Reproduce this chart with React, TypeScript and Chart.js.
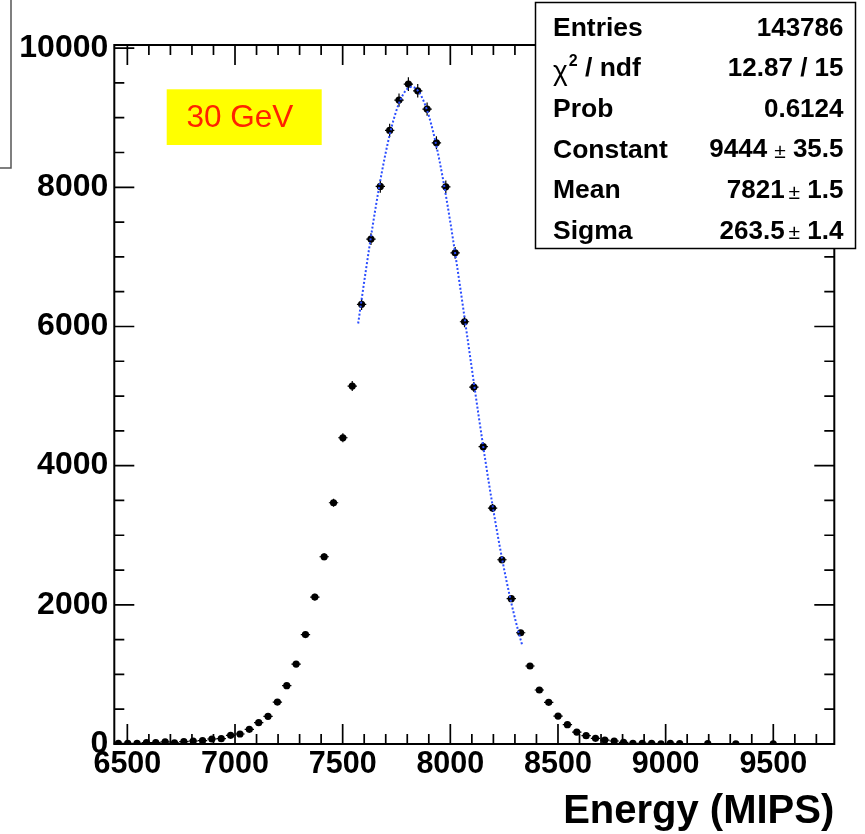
import React, { useEffect, useRef } from "react";
import { Chart, registerables } from "chart.js";

Chart.register(...registerables);

// ---------- data ----------
const binCenters = [
  6458.2, 6501.7, 6545.1, 6588.6, 6632.0, 6675.5, 6718.9, 6762.4, 6805.8, 6849.3,
  6892.7, 6936.2, 6979.6, 7023.1, 7066.5, 7110.0, 7153.4, 7196.9, 7240.3, 7283.8,
  7327.2, 7370.7, 7414.1, 7457.6, 7501.0, 7544.5, 7587.9, 7631.4, 7674.8, 7718.3,
  7761.7, 7805.2, 7848.6, 7892.1, 7935.5, 7979.0, 8022.4, 8065.9, 8109.3, 8152.8,
  8196.2, 8239.7, 8283.1, 8326.6, 8370.0, 8413.5, 8456.9, 8500.4, 8543.8, 8587.3,
  8630.7, 8674.2, 8717.6, 8761.1, 8804.5, 8848.0, 8891.4, 8934.9, 8978.3, 9021.8,
  9065.2, 9195.6, 9326.0, 9499.7,
];
const binCounts = [
  10, 10, 10, 20, 20, 30, 15, 35, 43, 48,
  72, 77, 125, 144, 211, 307, 397, 603, 838, 1149,
  1573, 2112, 2691, 3467, 4401, 5144, 6318, 7256, 8013, 8818,
  9253, 9483, 9387, 9124, 8639, 8007, 7059, 6068, 5129, 4272,
  3391, 2648, 2088, 1599, 1121, 776, 599, 402, 278, 172,
  120, 81, 57, 43, 24, 10, 10, 10, 3, 8,
  5, 5, 3, 2,
];
const binHalfWidth = 21.7;

const fitConstant = 9444;
const fitMean = 7821;
const fitSigma = 263.5;
const fitRange = [7572, 8335];

const xTickLabels = [6500, 7000, 7500, 8000, 8500, 9000, 9500];
const yTickLabels = [0, 2000, 4000, 6000, 8000, 10000];
const xMinorStep = 100;
const yMinorStep = 500;

const statsLabels = ["Entries", "CHI2", "Prob", "Constant", "Mean", "Sigma"];
const statsValues = ["143786", "12.87 / 15", "0.6124", "9444 ± 35.5", "7821 ± 1.5", "263.5 ± 1.4"];

const energyLabel = "30 GeV";
const xTitle = "Energy (MIPS)";

const X_MIN = 6439.4;
const X_MAX = 9783.3;
const Y_MIN = 0;
const Y_MAX = 10045;

const FONT = '"Liberation Sans", Arial, Helvetica, sans-serif';

function fitCurve() {
  const pts: { x: number; y: number }[] = [];
  const n = 300;
  for (let i = 0; i <= n; i++) {
    const x = fitRange[0] + ((fitRange[1] - fitRange[0]) * i) / n;
    const d = (x - fitMean) / fitSigma;
    pts.push({ x, y: fitConstant * Math.exp(-0.5 * d * d) });
  }
  return pts;
}

const decorPlugin = {
  id: "rootDecor",
  beforeDraw(chart: any) {
    const ctx = chart.ctx;
    ctx.save();
    ctx.fillStyle = "#ffffff";
    ctx.fillRect(0, 0, chart.width, chart.height);
    ctx.restore();
  },
  beforeDatasetsDraw(chart: any) {
    const ctx = chart.ctx;
    const xs = chart.scales.x;
    const ys = chart.scales.y;
    const { left, right, top, bottom } = chart.chartArea;
    ctx.save();
    // frame
    ctx.strokeStyle = "#000";
    ctx.lineWidth = 2;
    ctx.strokeRect(left, top, right - left, bottom - top);
    // ticks
    ctx.lineWidth = 1.7;
    ctx.beginPath();
    for (let v = xTickLabels[0]; v <= X_MAX; v += xMinorStep) {
      const px = xs.getPixelForValue(v);
      const len = xTickLabels.includes(v) ? 20 : 10;
      ctx.moveTo(px, bottom);
      ctx.lineTo(px, bottom - len);
      ctx.moveTo(px, top);
      ctx.lineTo(px, top + len);
    }
    for (let v = 0; v <= Y_MAX; v += yMinorStep) {
      const py = ys.getPixelForValue(v);
      const len = yTickLabels.includes(v) ? 20 : 10;
      ctx.moveTo(left, py);
      ctx.lineTo(left + len, py);
      ctx.moveTo(right, py);
      ctx.lineTo(right - len, py);
    }
    ctx.stroke();
    // error bars
    ctx.lineWidth = 1.2;
    ctx.beginPath();
    binCenters.forEach((c, i) => {
      const v = binCounts[i];
      const cx = xs.getPixelForValue(c);
      const cy = ys.getPixelForValue(v);
      const x0 = xs.getPixelForValue(c - binHalfWidth);
      const x1 = xs.getPixelForValue(c + binHalfWidth);
      const e = Math.sqrt(v);
      const y0 = ys.getPixelForValue(Math.max(0, v - e));
      const y1 = ys.getPixelForValue(v + e);
      ctx.moveTo(x0, cy);
      ctx.lineTo(x1, cy);
      ctx.moveTo(cx, y0);
      ctx.lineTo(cx, y1);
    });
    ctx.stroke();
    ctx.restore();
  },
  afterDraw(chart: any) {
    const ctx = chart.ctx;
    ctx.save();
    // top-left clipped pave
    ctx.strokeStyle = "#555";
    ctx.lineWidth = 1.5;
    ctx.beginPath();
    ctx.moveTo(11, 0);
    ctx.lineTo(11, 168);
    ctx.lineTo(0, 168);
    ctx.stroke();

    // 30 GeV label
    ctx.fillStyle = "#ffff00";
    ctx.fillRect(166.7, 89.3, 155, 55.7);
    ctx.fillStyle = "#ff2200";
    ctx.font = `31.5px ${FONT}`;
    ctx.textAlign = "left";
    ctx.textBaseline = "middle";
    ctx.fillText(energyLabel, 186.5, 118);

    // stats box
    ctx.fillStyle = "#fff";
    ctx.fillRect(535, 2, 321, 247);
    ctx.strokeStyle = "#000";
    ctx.lineWidth = 1.5;
    ctx.strokeRect(535.5, 2.5, 320, 246);
    const labFont = `bold 26.5px ${FONT}`;
    const bold = `bold 26px ${FONT}`;
    const pmFont = `21px ${FONT}`;
    ctx.fillStyle = "#000";
    statsLabels.forEach((lab, i) => {
      const cy = 28.5 + 40.6 * i;
      ctx.textBaseline = "middle";
      ctx.textAlign = "left";
      if (lab === "CHI2") {
        let x = 553;
        ctx.font = `28px ${FONT}`;
        ctx.fillText("χ", x, cy + 3);
        x += ctx.measureText("χ").width;
        ctx.font = `bold 16px ${FONT}`;
        ctx.fillText("2", x + 1, cy - 8);
        x += ctx.measureText("2").width + 1;
        ctx.font = labFont;
        ctx.fillText(" / ndf", x, cy);
      } else {
        ctx.font = labFont;
        ctx.fillText(lab, 553, cy);
      }
      // value, right aligned
      const val = statsValues[i];
      const parts = val.split("±");
      ctx.textAlign = "right";
      let rx = 843.5;
      if (parts.length === 2) {
        ctx.font = bold;
        const p2 = " " + parts[1].trim();
        ctx.fillText(p2, rx, cy);
        rx -= ctx.measureText(p2).width;
        ctx.font = pmFont;
        ctx.fillText("±", rx, cy + 2);
        rx -= ctx.measureText("±").width + (i === 3 ? 7 : 4);
        ctx.font = bold;
        ctx.fillText(parts[0].trim(), rx, cy);
      } else {
        ctx.font = bold;
        ctx.fillText(val, rx, cy);
      }
    });
    ctx.restore();
  },
};

export default function App() {
  const ref = useRef<HTMLCanvasElement | null>(null);

  useEffect(() => {
    if (!ref.current) return;
    const points = binCenters.map((c, i) => ({ x: c, y: binCounts[i] }));
    const chart = new Chart(ref.current, {
      type: "scatter",
      data: {
        datasets: [
          {
            label: "fit",
            data: fitCurve(),
            showLine: true,
            borderColor: "#2a4dff",
            borderWidth: 2,
            borderDash: [2, 2],
            pointRadius: 0,
            fill: false,
            order: 0,
          } as any,
          {
            label: "data",
            data: points,
            pointRadius: 3.6,
            pointStyle: "circle",
            backgroundColor: "#000",
            borderColor: "#000",
            borderWidth: 0,
            order: 1,
          } as any,
        ],
      },
      options: {
        responsive: false,
        animation: false,
        layout: { padding: { left: 0, top: 45, right: 30.7, bottom: 0 } },
        plugins: {
          legend: { display: false },
          tooltip: { enabled: false },
          title: { display: false },
        },
        scales: {
          x: {
            type: "linear",
            min: X_MIN,
            max: X_MAX,
            grid: { display: false, drawTicks: false },
            border: { display: false },
            afterBuildTicks: (s: any) => {
              s.ticks = xTickLabels.map((v) => ({ value: v }));
            },
            afterFit: (s: any) => {
              s.height = 90;
            },
            ticks: {
              autoSkip: false,
              maxRotation: 0,
              minRotation: 0,
              padding: 2,
              color: "#000",
              font: { family: FONT, size: 30.5, weight: "bold" },
              callback: (v: any) => String(v),
            },
            title: {
              display: true,
              text: xTitle,
              align: "end",
              color: "#000",
              font: { family: FONT, size: 40, weight: "bold", lineHeight: 1 },
              padding: { top: 0, bottom: 2 },
            },
          },
          y: {
            type: "linear",
            min: Y_MIN,
            max: Y_MAX,
            grid: { display: false, drawTicks: false },
            border: { display: false },
            afterBuildTicks: (s: any) => {
              s.ticks = yTickLabels.map((v) => ({ value: v }));
            },
            afterFit: (s: any) => {
              s.width = 114.3;
            },
            ticks: {
              autoSkip: false,
              padding: 6,
              color: "#000",
              font: { family: FONT, size: 32, weight: "bold" },
              callback: (v: any) => String(v),
            },
          },
        },
      } as any,
      plugins: [decorPlugin],
    });
    return () => chart.destroy();
  }, []);

  return (
    <div style={{ position: "absolute", left: 0, top: 0, width: 865, height: 834, background: "#fff" }}>
      <canvas ref={ref} width={865} height={834} style={{ width: 865, height: 834, display: "block" }} />
    </div>
  );
}
